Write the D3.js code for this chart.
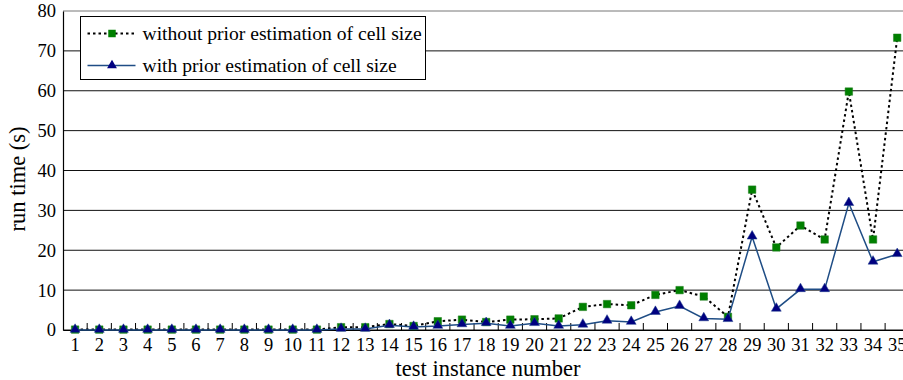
<!DOCTYPE html>
<html lang="en">
<head>
<meta charset="UTF-8">
<title>Run time per test instance</title>
<script src="https://d3js.org/d3.v7.min.js"></script>
<style>
  body { margin: 0; background: #fff; }
  svg { font-family: "Liberation Serif", "Times New Roman", serif; display: block; }
  .grid line { stroke-width: 1; }
</style>
</head>
<body>
<div id="chart"></div>
<script>
// test instances (x categories)
const instances = [1, 2, 3, 4, 5, 6, 7, 8, 9, 10, 11, 12, 13, 14, 15, 16, 17, 18,
    19, 20, 21, 22, 23, 24, 25, 26, 27, 28, 29, 30, 31, 32, 33, 34, 35];

// run time (s) without prior estimation of cell size
const withoutPrior = [0.1, 0.1, 0.1, 0.1, 0.1, 0.1, 0.1, 0.1, 0.1, 0.1, 0.1,
    0.7, 0.7, 1.5, 1.0, 2.2, 2.6, 2.0, 2.6, 2.7, 2.9, 5.8, 6.5, 6.2, 8.8, 10.0,
    8.4, 3.3, 35.2, 20.7, 26.2, 22.7, 59.8, 22.7, 73.3];

// run time (s) with prior estimation of cell size
const withPrior = [0, 0, 0, 0, 0, 0, 0, 0, 0, 0, 0,
    0.25, 0.25, 1.2, 0.75, 1.0, 1.4, 1.7, 1.0, 1.7, 1.0, 1.3, 2.3, 2.0, 4.5, 6.0,
    2.9, 2.7, 23.4, 5.3, 10.2, 10.2, 31.8, 17.1, 19.0];

const yTicks = [0, 10, 20, 30, 40, 50, 60, 70, 80];

const seriesNames = ["without prior estimation of cell size", "with prior estimation of cell size"];

const width = 903, height = 380;
const margin = { top: 11, left: 63, bottom: 50 };
const plotW = 846.3, plotH = height - margin.top - margin.bottom;

const svg = d3.select("#chart").append("svg")
    .attr("width", width)
    .attr("height", height);

const g = svg.append("g")
    .attr("transform", `translate(${margin.left},${margin.top})`);

const x = d3.scaleBand()
    .domain(instances)
    .range([0, plotW])
    .padding(0);

const y = d3.scaleLinear()
    .domain([0, 80])
    .range([plotH, 0]);

const cx = d => x(d) + x.bandwidth() / 2;

// horizontal grid lines
g.append("g")
    .attr("class", "grid")
    .selectAll("line")
    .data(yTicks)
    .join("line")
    .attr("x1", 0)
    .attr("x2", plotW)
    .attr("y1", d => y(d))
    .attr("y2", d => y(d))
    .attr("stroke", d => d === 80 ? "#777" : "#111");

// y axis
const yAxis = g.append("g")
    .call(d3.axisLeft(y).tickValues(yTicks).tickSize(0).tickPadding(7));
yAxis.select(".domain").attr("stroke", "#000").attr("stroke-width", 1.2);
yAxis.selectAll("text")
    .attr("fill", "#000")
    .style("font-size", "18.5px")
    .style("font-family", "'Liberation Serif', serif");

// x axis: ticks at band boundaries pointing inward
const xAxis = g.append("g")
    .attr("transform", `translate(0,${plotH})`)
    .call(d3.axisBottom(x).tickSize(0).tickPadding(8));
xAxis.select(".domain").attr("stroke", "#000").attr("stroke-width", 1.2);
xAxis.selectAll("text")
    .attr("fill", "#000")
    .style("font-size", "18.5px")
    .style("font-family", "'Liberation Serif', serif");

g.append("g")
    .selectAll("line")
    .data(instances.slice(1))
    .join("line")
    .attr("x1", d => x(d))
    .attr("x2", d => x(d))
    .attr("y1", plotH)
    .attr("y2", plotH - 7)
    .attr("stroke", "#000")
    .attr("stroke-width", 1);

// without prior: dotted black line, green squares
const seriesLine = d3.line()
    .x((d, i) => cx(instances[i]))
    .y(d => y(d));

g.append("path")
    .datum(withoutPrior)
    .attr("fill", "none")
    .attr("stroke", "#000")
    .attr("stroke-width", 2)
    .attr("stroke-dasharray", "2.5,3")
    .attr("d", seriesLine);

const square = d3.symbol().type(d3.symbolSquare).size(56);
g.append("g")
    .selectAll("path")
    .data(withoutPrior)
    .join("path")
    .attr("transform", (d, i) => `translate(${cx(instances[i])},${y(d)})`)
    .attr("d", square)
    .attr("fill", "#008000")
    .attr("stroke", "#1c7a1c")
    .attr("stroke-width", 0.5);

// with prior: solid blue line, navy triangles
g.append("path")
    .datum(withPrior)
    .attr("fill", "none")
    .attr("stroke", "#1f4d85")
    .attr("stroke-width", 1.5)
    .attr("d", seriesLine);

const triangle = d3.symbol().type(d3.symbolTriangle).size(42);
g.append("g")
    .selectAll("path")
    .data(withPrior)
    .join("path")
    .attr("transform", (d, i) => `translate(${cx(instances[i])},${y(d) - 0.5})`)
    .attr("d", triangle)
    .attr("fill", "#000080")
    .attr("stroke", "#1a3a8a")
    .attr("stroke-width", 0.5);

// axis titles
svg.append("text")
    .attr("transform", `translate(25,179) rotate(-90)`)
    .attr("text-anchor", "middle")
    .style("font-size", "22.5px")
    .text("run time (s)");

svg.append("text")
    .attr("x", 488)
    .attr("y", 376)
    .attr("text-anchor", "middle")
    .style("font-size", "22.5px")
    .text("test instance number");

// legend
const legend = svg.append("g").attr("transform", "translate(80.5,16.5)");
legend.append("rect")
    .attr("width", 345)
    .attr("height", 63)
    .attr("fill", "#fff")
    .attr("stroke", "#000")
    .attr("stroke-width", 1);

const legendRows = [
    { name: seriesNames[0], y: 17, dash: "2.5,3", color: "#000", w: 2, sym: square, fill: "#008000" },
    { name: seriesNames[1], y: 49, dash: null, color: "#1f4d85", w: 1.5, sym: triangle, fill: "#000080" }
];

legendRows.forEach(r => {
    legend.append("line")
        .attr("x1", 7).attr("x2", 55)
        .attr("y1", r.y).attr("y2", r.y)
        .attr("stroke", r.color)
        .attr("stroke-width", r.w)
        .attr("stroke-dasharray", r.dash);
    legend.append("path")
        .attr("transform", `translate(31.5,${r.y})`)
        .attr("d", r.sym)
        .attr("fill", r.fill);
    legend.append("text")
        .attr("x", 62)
        .attr("y", r.y + 6)
        .style("font-size", "19.6px")
        .text(r.name);
});
</script>
</body>
</html>
